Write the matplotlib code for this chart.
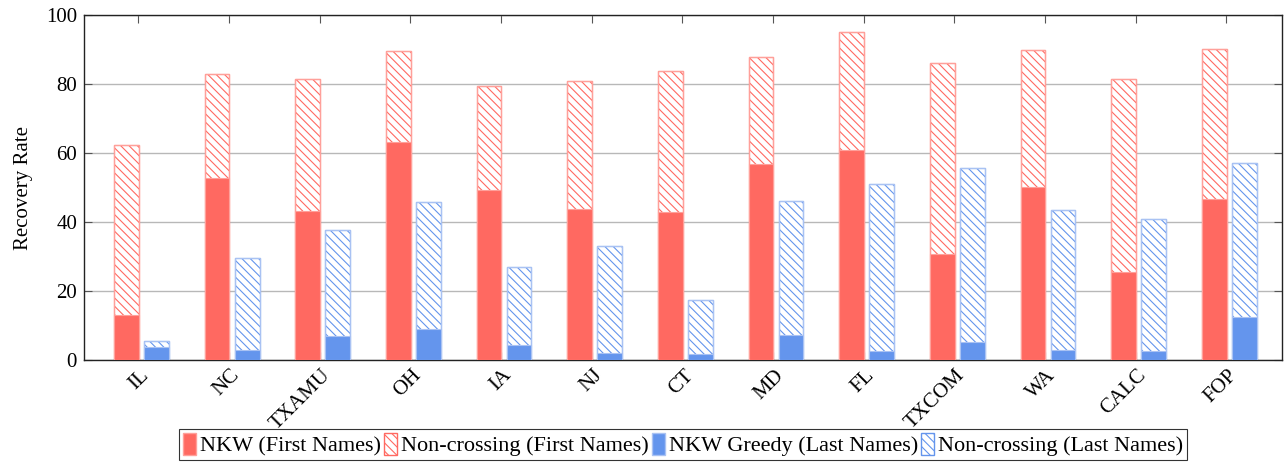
import matplotlib
matplotlib.use("Agg")
import matplotlib.pyplot as plt
import matplotlib.transforms as mtrans
import numpy as np
from matplotlib.patches import Patch

plt.rcParams['font.family'] = ['Liberation Serif', 'DejaVu Serif']
plt.rcParams['hatch.linewidth'] = 0.8

categories = ["IL", "NC", "TXAMU", "OH", "IA", "NJ", "CT", "MD", "FL", "TXCOM", "WA", "CALC", "FOP"]
nkw_first = [13.1, 52.7, 43.2, 63.2, 49.2, 43.8, 42.8, 56.8, 60.8, 30.7, 50.1, 25.5, 46.7]
noncross_first = [62.3, 82.8, 81.4, 89.7, 79.3, 80.9, 83.8, 87.7, 95.2, 86.0, 89.9, 81.4, 90.1]
nkw_greedy_last = [3.8, 2.9, 7.0, 9.0, 4.3, 2.1, 1.8, 7.2, 2.6, 5.2, 2.9, 2.6, 12.5]
noncross_last = [5.6, 29.5, 37.6, 45.7, 27.1, 33.0, 17.5, 46.2, 50.9, 55.7, 43.4, 41.0, 57.0]

RED = "#FF6961"
RED_EDGE = "#FFA09A"
BLUE = "#6495ED"
BLUE_EDGE = "#A9C2F3"
FS = 15

fig = plt.figure(figsize=(12.84, 4.62), dpi=100)
ax = fig.add_axes([84/1284, 1 - 360/462, (1281.5-84)/1284, (360-15)/462])

x = np.arange(len(categories))
w = 0.272
off_r = -0.132
off_b = 0.200

ax.bar(x + off_r, noncross_first, w, color="white", edgecolor=RED, hatch="\\\\\\\\", linewidth=0.8, zorder=2)
ax.bar(x + off_r, noncross_first, w, color="none", edgecolor=RED_EDGE, linewidth=1.0, zorder=2.1)
ax.bar(x + off_r, nkw_first, w, color=RED, edgecolor=RED_EDGE, linewidth=0.8, zorder=3)
ax.bar(x + off_b, noncross_last, w, color="white", edgecolor=BLUE, hatch="\\\\\\\\", linewidth=0.8, zorder=2)
ax.bar(x + off_b, noncross_last, w, color="none", edgecolor=BLUE_EDGE, linewidth=1.0, zorder=2.1)
ax.bar(x + off_b, nkw_greedy_last, w, color=BLUE, edgecolor=BLUE_EDGE, linewidth=0.8, zorder=3)

ax.set_xlim(-0.6, len(categories) - 1 + 0.61)
ax.set_ylim(0, 100)
ax.set_yticks([0, 20, 40, 60, 80, 100])
ax.set_xticks(x)
ax.tick_params(axis='x', pad=9)
ax.tick_params(axis='y', labelsize=FS, pad=5)
ax.tick_params(direction="in", top=True, right=True, length=6, width=0.8, color="#555555")
ax.set_xticklabels(categories, rotation=45, ha="right", va="center", rotation_mode="anchor", fontsize=FS)
offset = mtrans.ScaledTranslation(8/100, 0, fig.dpi_scale_trans)
for tick in ax.xaxis.get_major_ticks():
    tick.label1.set_transform(tick.label1.get_transform() + offset)
ax.yaxis.grid(True, color="#b8b8b8", linewidth=1.0, zorder=0)
ax.set_axisbelow(True)
for s in ax.spines.values():
    s.set_linewidth(1.0)
    s.set_color("#222222")
ax.set_ylabel("Recovery Rate", fontsize=FS, labelpad=9)

handles = [
    Patch(facecolor=RED, edgecolor=RED_EDGE, label="NKW (First Names)"),
    Patch(facecolor="white", edgecolor=RED, hatch="\\\\\\\\", label="Non-crossing (First Names)"),
    Patch(facecolor=BLUE, edgecolor=BLUE_EDGE, label="NKW Greedy (Last Names)"),
    Patch(facecolor="white", edgecolor=BLUE, hatch="\\\\\\\\", label="Non-crossing (Last Names)"),
]
leg = fig.legend(handles=handles, loc="center", bbox_to_anchor=(683/1284, 1 - 444.5/462), ncol=4,
                 fontsize=16, frameon=True, fancybox=False, edgecolor="black",
                 handlelength=0.6, handleheight=1.2, handletextpad=0.15, columnspacing=0.15,
                 borderpad=0.18, borderaxespad=0)
leg.get_frame().set_linewidth(0.8)

fig.savefig("out.png", dpi=100)
